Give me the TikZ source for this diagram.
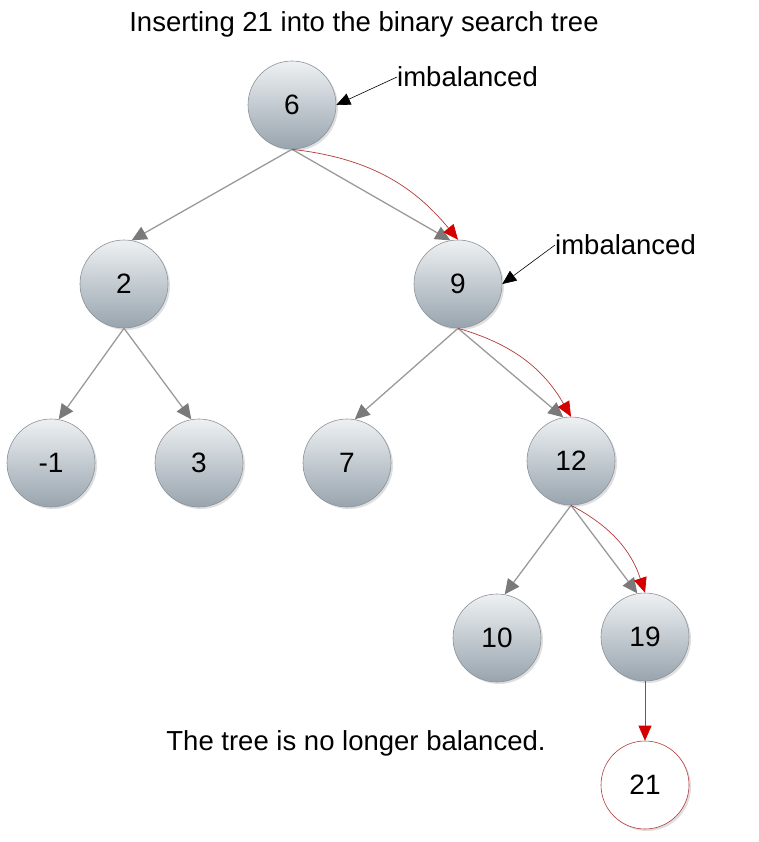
\documentclass[tikz,border=0pt]{standalone}
\usepackage{fontspec}
\setmainfont{Liberation Sans}
\usetikzlibrary{arrows.meta,shadows}
\definecolor{nodetop}{HTML}{EEF1F3}
\definecolor{nodebottom}{HTML}{98A4AE}
\definecolor{nodeedge}{HTML}{8A9299}
\definecolor{linkgray}{HTML}{9A9A9A}
\definecolor{tipgray}{HTML}{7A7A7A}
\definecolor{pathred}{HTML}{B23A3A}
\definecolor{tipred}{HTML}{D40000}
\tikzset{
	treenode/.style = {circle, minimum size=88pt, inner sep=0pt, draw=nodeedge, line width=0.6pt,
		top color=nodetop, bottom color=nodebottom,
		drop shadow={opacity=0.25, shadow xshift=2pt, shadow yshift=-2pt},
		font=\fontsize{28}{32}\selectfont},
	newnode/.style = {treenode, top color=white, bottom color=white, draw=pathred},
	link/.style = {draw=linkgray, line width=1.3pt, -{Triangle[length=15pt, width=14pt, color=tipgray, fill=tipgray]}},
	redlink/.style = {draw=pathred, line width=0.7pt, -{Triangle[length=15pt, width=13pt, color=tipred, fill=tipred]}},
	note/.style = {black, line width=0.6pt, -{Triangle[length=14pt, width=12pt]}},
	textnote/.style = {font=\fontsize{27.5}{32}\selectfont, inner sep=0pt}
}
\begin{document}
\begin{tikzpicture}[x=1pt, y=-1pt]
	\useasboundingbox (0,0) rectangle (759,842);
	\node [textnote] (title) at (364,24) {Inserting 21 into the binary search tree};
	% tree
	\node [treenode] (n6) at (292,105) {6};
	\node [treenode] (n2) at (124,284) {2};
	\node [treenode] (n9) at (458,284) {9};
	\node [treenode] (nm1) at (51,463) {-1};
	\node [treenode] (n3) at (199,463) {3};
	\node [treenode] (n7) at (347,463) {7};
	\node [treenode] (n12) at (571,461) {12};
	\node [treenode] (n10) at (497,638) {10};
	\node [treenode] (n19) at (645,637) {19};
	\node [newnode] (n21) at (645,785) {21};
	% links
	\draw [link] (n6.south) -- (n2.80);
	\draw [link] (n6.south) -- (n9.100);
	\draw [link] (n2.south) -- (nm1.80);
	\draw [link] (n2.south) -- (n3.100);
	\draw [link] (n9.south) -- (n7.80);
	\draw [link] (n9.south) -- (n12.100);
	\draw [link] (n12.south) -- (n10.80);
	\draw [link] (n12.south) -- (n19.100);
	% insertion path
	\draw [redlink] (n6.south) to [bend left=22] (n9.north);
	\draw [redlink] (n9.south) to [bend left=22] (n12.north);
	\draw [redlink] (n12.south) to [bend left=22] (n19.north);
	\draw [redlink] (n19.south) -- (n21.north);
	% notes
	\node [textnote, anchor=west] (imb6) at (397,77) {imbalanced};
	\node [textnote, anchor=west] (imb9) at (555,245) {imbalanced};
	\draw [note] (imb6.west) -- (n6.east);
	\draw [note] (imb9.west) -- (n9.east);
	\node [textnote] (caption) at (356,743) {The tree is no longer balanced.};
\end{tikzpicture}
\end{document}
